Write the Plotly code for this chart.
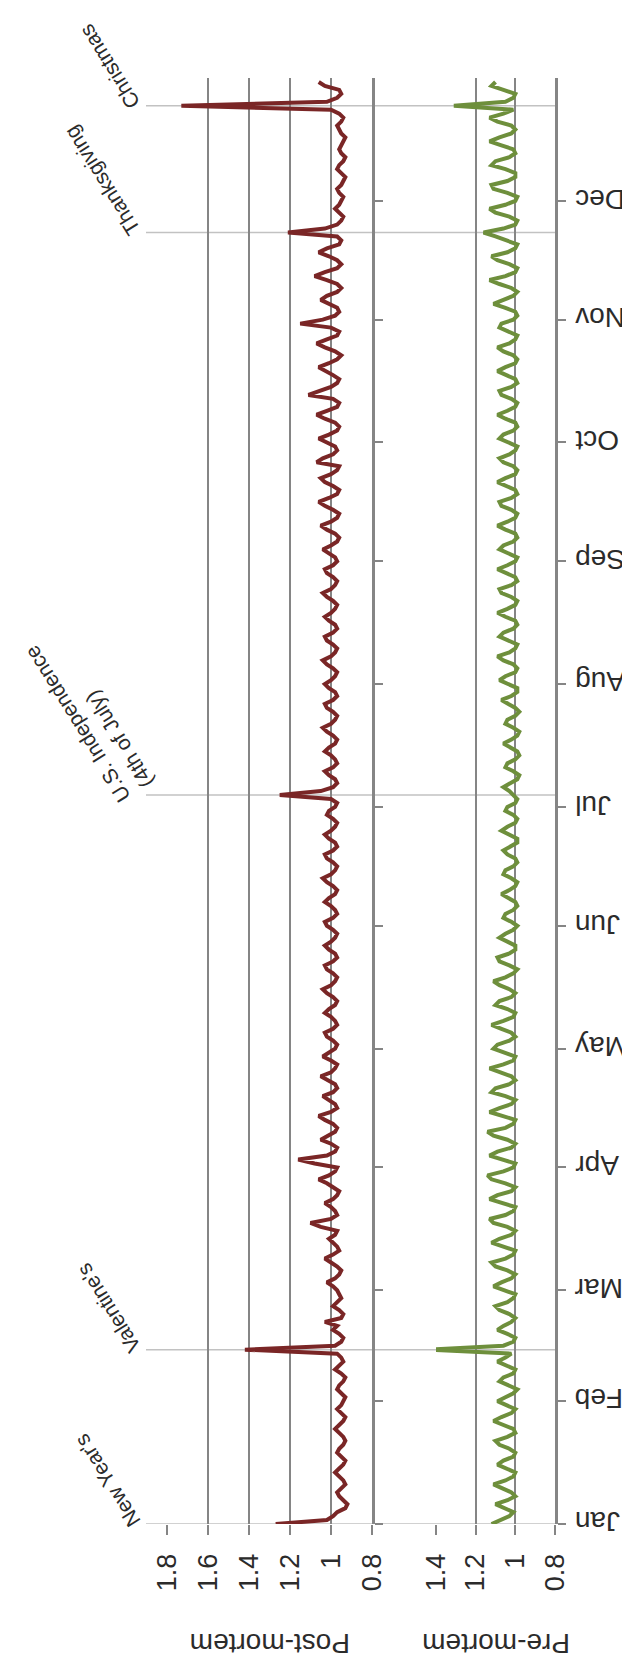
import pandas as pd
import plotly.graph_objects as go

W, H = 630, 1658

months = ["Jan", "Feb", "Mar", "Apr", "May", "Jun", "Jul", "Aug", "Sep", "Oct", "Nov", "Dec"]
month_starts = ["2017-%02d-01" % m for m in range(1, 13)]

# Post-mortem daily values (red)
post_jan = [1.27, 1.02, 0.99, 0.97, 0.93, 0.92, 0.94, 0.96, 0.97, 0.95, 0.93, 0.94, 0.96, 0.98, 0.96, 0.94, 0.93, 0.95, 0.97, 0.96, 0.94, 0.93, 0.94, 0.96, 0.98, 0.96, 0.94, 0.93, 0.95, 0.97, 0.95]
post_feb = [0.94, 0.93, 0.95, 0.97, 0.96, 0.94, 0.93, 0.95, 0.98, 0.96, 0.94, 0.95, 0.97, 1.42, 0.98, 0.95, 0.94, 0.96, 0.99, 0.97, 1.03, 0.95, 0.94, 0.96, 0.99, 0.97, 0.95, 0.96]
post_mar = [0.97, 0.99, 1.02, 0.98, 0.96, 0.95, 0.97, 1.00, 1.03, 0.99, 0.96, 0.97, 0.99, 1.01, 0.98, 0.97, 1.05, 1.10, 1.00, 0.97, 0.98, 1.00, 1.03, 0.99, 0.97, 0.96, 0.99, 1.02, 1.06, 1.01, 0.98]
post_apr = [0.97, 1.08, 1.16, 1.02, 0.98, 0.97, 1.00, 1.05, 1.01, 0.98, 0.97, 0.99, 1.03, 1.06, 1.00, 0.97, 0.98, 1.01, 1.04, 0.99, 0.97, 0.98, 1.02, 1.05, 1.00, 0.98, 0.97, 1.00, 1.04, 1.01]
post_may = [0.98, 0.97, 0.99, 1.02, 1.03, 0.99, 0.97, 0.98, 1.00, 1.03, 1.01, 0.98, 0.97, 0.99, 1.02, 1.04, 1.00, 0.98, 0.97, 0.99, 1.02, 1.03, 0.99, 0.97, 0.98, 1.01, 1.03, 1.00, 0.98, 0.97, 0.99]
post_jun = [1.02, 1.03, 0.99, 0.97, 0.98, 1.00, 1.03, 1.01, 0.98, 0.97, 0.99, 1.02, 1.04, 1.00, 0.98, 0.97, 0.99, 1.02, 1.03, 0.99, 0.97, 0.98, 1.01, 1.03, 1.00, 0.98, 0.97, 0.99, 1.02, 1.01]
post_jul = [0.98, 0.97, 1.00, 1.25, 1.05, 0.99, 0.97, 0.98, 1.01, 1.03, 0.99, 0.97, 0.98, 1.00, 1.03, 1.01, 0.98, 0.97, 0.99, 1.02, 1.04, 1.00, 0.98, 0.97, 0.99, 1.02, 1.03, 0.99, 0.97, 0.98, 1.01]
post_aug = [1.03, 1.00, 0.98, 0.97, 0.99, 1.02, 1.04, 1.00, 0.98, 0.97, 0.99, 1.02, 1.03, 0.99, 0.97, 0.98, 1.01, 1.03, 1.00, 0.98, 0.97, 0.99, 1.02, 1.04, 1.00, 0.98, 0.97, 0.99, 1.02, 1.03, 0.99]
post_sep = [0.97, 0.98, 1.01, 1.04, 1.00, 0.97, 0.96, 0.98, 1.02, 1.05, 1.00, 0.97, 0.96, 0.99, 1.03, 1.06, 1.01, 0.97, 0.96, 0.99, 1.03, 1.05, 1.00, 0.97, 0.96, 1.07, 1.04, 0.99, 0.97, 0.98]
post_oct = [1.02, 1.06, 1.01, 0.97, 0.96, 0.98, 1.03, 1.07, 1.02, 0.97, 0.96, 0.99, 1.11, 1.05, 1.00, 0.97, 0.96, 0.99, 1.03, 1.06, 1.01, 0.97, 0.95, 0.98, 1.03, 1.07, 1.02, 0.97, 0.96, 1.00, 1.15]
post_nov = [1.04, 0.98, 0.96, 0.97, 1.01, 1.05, 1.02, 0.97, 0.95, 0.97, 1.02, 1.08, 1.03, 0.97, 0.95, 0.97, 1.01, 1.06, 1.02, 0.96, 0.95, 0.97, 1.21, 1.03, 0.97, 0.95, 0.94, 0.96, 0.98, 0.96]
post_dec = [0.95, 0.94, 0.96, 0.97, 0.95, 0.94, 0.93, 0.95, 0.97, 0.96, 0.94, 0.93, 0.95, 0.96, 0.95, 0.94, 0.93, 0.95, 0.96, 0.97, 0.95, 0.94, 0.96, 1.00, 1.73, 1.02, 0.97, 0.95, 0.96, 1.03, 1.06]

# Pre-mortem daily values (green)
pre_jan = [1.12, 1.08, 1.03, 1.01, 1.05, 1.10, 1.04, 1.00, 1.02, 1.07, 1.11, 1.05, 1.01, 1.00, 1.04, 1.09, 1.06, 1.01, 1.00, 1.03, 1.08, 1.10, 1.04, 1.00, 1.01, 1.06, 1.11, 1.07, 1.02, 1.00, 1.04]
pre_feb = [1.09, 1.05, 1.01, 0.99, 1.03, 1.08, 1.06, 1.01, 1.00, 1.04, 1.09, 1.05, 1.02, 1.43, 1.06, 1.01, 1.00, 1.04, 1.09, 1.06, 1.02, 1.00, 1.03, 1.08, 1.10, 1.04, 1.01, 1.00]
pre_mar = [1.05, 1.11, 1.07, 1.02, 1.00, 1.04, 1.10, 1.12, 1.05, 1.01, 1.00, 1.06, 1.12, 1.08, 1.02, 1.00, 1.04, 1.11, 1.13, 1.05, 1.01, 1.00, 1.06, 1.13, 1.09, 1.02, 1.00, 1.05, 1.12, 1.14, 1.06]
pre_apr = [1.01, 1.00, 1.06, 1.13, 1.09, 1.02, 1.00, 1.04, 1.11, 1.14, 1.05, 1.01, 1.00, 1.07, 1.13, 1.08, 1.02, 1.00, 1.05, 1.12, 1.10, 1.03, 1.00, 1.02, 1.08, 1.13, 1.06, 1.01, 1.00, 1.05]
pre_may = [1.11, 1.09, 1.03, 1.00, 1.02, 1.07, 1.12, 1.06, 1.01, 1.00, 1.04, 1.10, 1.08, 1.02, 1.00, 1.03, 1.08, 1.11, 1.05, 1.01, 0.99, 1.03, 1.08, 1.09, 1.03, 1.00, 1.00, 1.04, 1.08, 1.05, 1.01]
pre_jun = [0.99, 1.02, 1.06, 1.05, 1.01, 0.99, 1.00, 1.04, 1.07, 1.03, 1.00, 0.99, 1.02, 1.06, 1.05, 1.01, 0.99, 1.00, 1.04, 1.06, 1.02, 0.99, 0.99, 1.03, 1.07, 1.04, 1.00, 0.99, 1.01, 1.05]
pre_jul = [1.04, 1.00, 0.99, 1.01, 1.03, 1.06, 1.02, 0.99, 0.98, 1.01, 1.05, 1.04, 1.00, 0.98, 0.99, 1.03, 1.06, 1.02, 0.99, 0.98, 1.01, 1.05, 1.04, 1.00, 0.98, 1.00, 1.04, 1.07, 1.02, 0.99, 0.99]
pre_aug = [1.03, 1.08, 1.05, 1.00, 0.99, 1.01, 1.06, 1.09, 1.03, 1.00, 0.99, 1.04, 1.08, 1.06, 1.01, 0.99, 1.00, 1.05, 1.09, 1.04, 1.00, 0.99, 1.02, 1.07, 1.08, 1.02, 0.99, 1.00, 1.05, 1.09, 1.04]
pre_sep = [1.00, 0.99, 1.03, 1.08, 1.06, 1.01, 0.99, 1.00, 1.05, 1.09, 1.04, 1.00, 0.99, 1.02, 1.07, 1.08, 1.02, 0.99, 1.00, 1.04, 1.09, 1.05, 1.00, 0.99, 1.01, 1.06, 1.08, 1.03, 1.00, 0.99]
pre_oct = [1.03, 1.08, 1.06, 1.01, 0.99, 1.00, 1.05, 1.09, 1.04, 1.00, 0.99, 1.02, 1.07, 1.08, 1.02, 0.99, 1.00, 1.04, 1.09, 1.05, 1.00, 0.99, 1.01, 1.06, 1.09, 1.03, 1.00, 0.99, 1.03, 1.08, 1.07]
pre_nov = [1.01, 0.99, 1.00, 1.05, 1.11, 1.06, 1.01, 0.99, 1.02, 1.08, 1.13, 1.05, 1.00, 0.99, 1.03, 1.09, 1.12, 1.04, 1.00, 0.99, 1.04, 1.10, 1.16, 1.06, 1.00, 0.99, 1.03, 1.10, 1.13, 1.05]
pre_dec = [1.00, 0.99, 1.04, 1.11, 1.12, 1.04, 1.00, 1.00, 1.05, 1.12, 1.10, 1.03, 1.00, 1.01, 1.07, 1.13, 1.08, 1.02, 1.00, 1.02, 1.09, 1.13, 1.06, 1.01, 1.31, 1.05, 1.01, 1.00, 1.06, 1.12, 1.10]

holiday_dates = ["2017-01-01", "2017-02-14", "2017-07-04", "2017-11-23", "2017-12-25"]
holiday_labels = ["New Year's", "Valentine's", "U.S. Independence<br>(4th of July)", "Thanksgiving", "Christmas"]

post_ticks = [0.8, 1.0, 1.2, 1.4, 1.6, 1.8]
post_ticktext = ["0.8", "1", "1.2", "1.4", "1.6", "1.8"]
pre_ticks = [0.8, 1.0, 1.2, 1.4]
pre_ticktext = ["0.8", "1", "1.2", "1.4"]

post_values = post_jan + post_feb + post_mar + post_apr + post_may + post_jun + post_jul + post_aug + post_sep + post_oct + post_nov + post_dec
pre_values = pre_jan + pre_feb + pre_mar + pre_apr + pre_may + pre_jun + pre_jul + pre_aug + pre_sep + pre_oct + pre_nov + pre_dec
dates = pd.date_range("2017-01-01", periods=len(post_values), freq="D")

RED = "#7a2626"
GREEN = "#6e8f3c"
GRID = "#858585"
TXT = "#2b2b2b"
FONT = "Liberation Sans, Arial, sans-serif"

def px(x):
    return x / W

def py(y):
    return 1 - y / H

y_bottom, y_top = 1516, 70
post_l, post_r = 159, 364
pre_l, pre_r = 428, 547

fig = go.Figure()
fig.add_trace(go.Scatter(x=post_values, y=dates, mode="lines", line=dict(color=RED, width=4),
                         xaxis="x", yaxis="y", showlegend=False))
fig.add_trace(go.Scatter(x=pre_values, y=dates, mode="lines", line=dict(color=GREEN, width=4),
                         xaxis="x2", yaxis="y2", showlegend=False))

xcommon = dict(showgrid=True, gridcolor=GRID, gridwidth=2.2, zeroline=False, showline=False,
               ticks="outside", ticklen=10, tickwidth=2.2, tickcolor=GRID, tickangle=-90,
               tickfont=dict(size=27, color=TXT, family=FONT), ticklabelstandoff=8,
               automargin=False, fixedrange=True)
ycommon = dict(type="date", range=["2017-01-01", "2018-01-01"], side="right", showline=True,
               linecolor=GRID, linewidth=2.5, ticks="outside", ticklen=8, tickwidth=2, tickcolor=GRID,
               tickvals=month_starts, showticklabels=False, showgrid=False, zeroline=False,
               domain=[py(y_bottom), py(y_top)], automargin=False, fixedrange=True)

fig.update_layout(
    template="none",
    width=W, height=H, margin=dict(l=0, r=0, t=0, b=0, pad=0, autoexpand=False),
    paper_bgcolor="white", plot_bgcolor="white",
    font=dict(family=FONT, color=TXT),
    xaxis=dict(domain=[px(post_l), px(post_r)], range=[1.8, 0.8], tickvals=post_ticks,
               ticktext=post_ticktext, anchor="y", **xcommon),
    xaxis2=dict(domain=[px(pre_l), px(pre_r)], range=[1.4, 0.8], tickvals=pre_ticks,
                ticktext=pre_ticktext, anchor="y2", **xcommon),
    yaxis=dict(anchor="x", **ycommon),
    yaxis2=dict(anchor="x2", matches="y", **ycommon),
)

shapes = []
annotations = []
for d, lab in zip(holiday_dates, holiday_labels):
    two = "<br>" in lab
    shapes.append(dict(type="line", xref="paper", yref="y", x0=px(138), x1=px(548), y0=d, y1=d,
                       line=dict(color="#c2c2c2", width=1.6), layer="below"))
    annotations.append(dict(xref="paper", yref="y", x=px(152 if two else 139), y=d, text=lab,
                            showarrow=False, textangle=-122, xanchor="right", yanchor="bottom",
                            align="left", yshift=-14 if two else -10,
                            font=dict(size=21, color=TXT, family=FONT)))

# month labels (upside-down, left-aligned next to the date axis)
for m, d in zip(months, month_starts):
    annotations.append(dict(xref="paper", yref="y2", x=px(565), y=d, text=m, showarrow=False,
                            textangle=180, xanchor="left", yanchor="middle", yshift=2,
                            font=dict(size=28, color=TXT, family=FONT)))

annotations.append(dict(xref="paper", yref="paper", x=px(262), y=py(1636), text="Post-mortem",
                        showarrow=False, textangle=180, xanchor="center", yanchor="middle",
                        font=dict(size=28, color=TXT, family=FONT)))
annotations.append(dict(xref="paper", yref="paper", x=px(488), y=py(1636), text="Pre-mortem",
                        showarrow=False, textangle=180, xanchor="center", yanchor="middle",
                        font=dict(size=28, color=TXT, family=FONT)))

fig.update_layout(shapes=shapes, annotations=annotations)
fig.write_html("out.html")
